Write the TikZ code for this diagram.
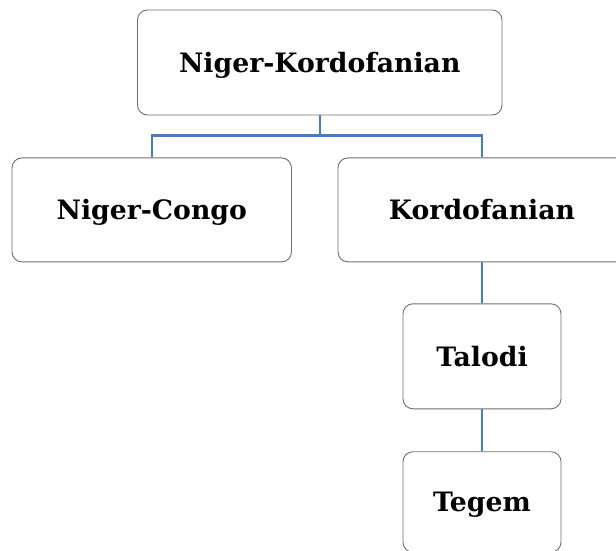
\documentclass[tikz,border=0pt]{standalone}
\usepackage{fontspec}
\setmainfont{DejaVu Serif}
\usetikzlibrary{positioning}

\definecolor{linkblue}{RGB}{74,126,187}
\definecolor{boxgray}{RGB}{110,110,110}

\tikzset{
  famnode/.style={draw=boxgray, line width=0.9pt, rounded corners=10pt,
    align=center, text height=19.5pt, text depth=0pt,
    font=\fontsize{26.7}{32}\selectfont\bfseries},
  link/.style={draw=linkblue, line width=2.2pt}
}

\begin{document}
\begin{tikzpicture}[x=1pt, y=1pt]

  \useasboundingbox (0,0) rectangle (616,-551);

  % Define nodes
  \node[famnode, minimum width=364.5pt, minimum height=105pt] (nk) at (319.75,-62.5) {Niger-Kordofanian};
  \node[famnode, minimum width=279.5pt, minimum height=104pt, below=42pt of nk, xshift=-168pt] (nc) {Niger-Congo};
  \node[famnode, minimum width=288pt, minimum height=104pt, below=42pt of nk, xshift=162.25pt] (kf) {Kordofanian};
  \node[famnode, minimum width=158pt, minimum height=105pt, below=41pt of kf] (ta) {Talodi};
  \node[famnode, minimum width=158pt, minimum height=100.5pt, below=42pt of ta] (te) {Tegem};

  % Connect the nodes
  \draw[link] (nk.south) -- ++(0,-20) coordinate (bar) -| (nc.north);
  \draw[link] (bar) -| (kf.north);
  \draw[link] (kf.south) -- (ta.north);
  \draw[link] (ta.south) -- (te.north);

\end{tikzpicture}
\end{document}
